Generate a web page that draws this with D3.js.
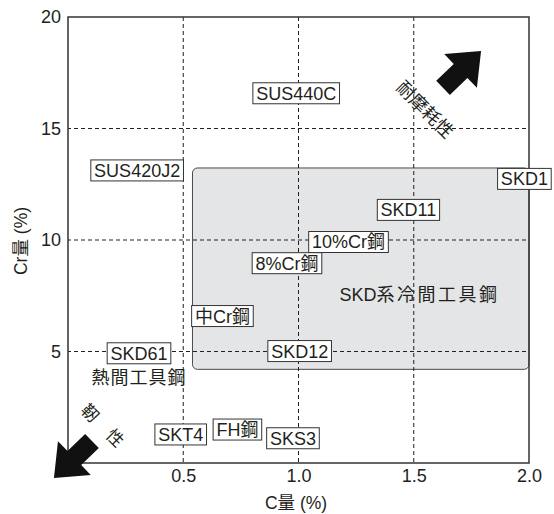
<!DOCTYPE html>
<html><head><meta charset="utf-8">
<script src="https://cdn.jsdelivr.net/npm/d3@7"></script>
<style>
body{margin:0;background:#fff;}
text{font-family:"Liberation Sans",Arial,"Noto Sans CJK JP",sans-serif;fill:#231f20;}
</style></head><body>
<svg id="chart" width="554" height="514"></svg>
<script>
// ---- data ----
const xTicks = [0.5, 1.0, 1.5, 2.0];
const xTickLabels = ["0.5", "1.0", "1.5", "2.0"];
const yTicks = [5, 10, 15, 20];
const yTickLabels = ["5", "10", "15", "20"];
const gridX = [0.5, 1.0, 1.5];
const gridY = [5, 10, 15];
const steelNames = ["SUS440C","SUS420J2","SKD1","SKD11","10%Cr鋼","8%Cr鋼","中Cr鋼","SKD12","SKD61","SKT4","FH鋼","SKS3"];
const steelC  = [0.99, 0.30, 1.98, 1.477, 1.217, 0.95, 0.67, 1.005, 0.308, 0.489, 0.735, 0.976];
const steelCr = [16.58, 13.12, 12.74, 11.35, 9.91, 8.96, 6.59, 5.02, 4.92, 1.28, 1.50, 1.11];
const regionC = [0.54, 2.0];
const regionCr = [4.2, 13.23];
const regionLabel = "SKD系冷間工具鋼";
const groupLabel = "熱間工具鋼";

const W = 554, H = 514;
const svg = d3.select("#chart");
const x = d3.scaleLinear().domain([0, 2]).range([68, 529]);
const y = d3.scaleLinear().domain([0, 20]).range([463, 17]);
const ink = "#231f20";

// gray region
svg.append("rect")
  .attr("x", x(regionC[0])).attr("y", y(regionCr[1]))
  .attr("width", x(regionC[1]) - x(regionC[0]))
  .attr("height", y(regionCr[0]) - y(regionCr[1]))
  .attr("rx", 5).attr("fill", "#e4e5e6").attr("stroke", "#4a4a4a").attr("stroke-width", 1);

// gridlines
svg.append("g").selectAll("line").data(gridX).join("line")
  .attr("x1", d => x(d)).attr("x2", d => x(d)).attr("y1", y(20)).attr("y2", y(0))
  .attr("stroke", ink).attr("stroke-width", 1).attr("stroke-dasharray", "4,3");
svg.append("g").selectAll("line").data(gridY).join("line")
  .attr("x1", x(0)).attr("x2", x(2)).attr("y1", d => y(d)).attr("y2", d => y(d))
  .attr("stroke", ink).attr("stroke-width", 1).attr("stroke-dasharray", "4,3")
  .attr("stroke-dashoffset", -6);

// frame
svg.append("rect").attr("x", x(0)).attr("y", y(20))
  .attr("width", x(2) - x(0)).attr("height", y(0) - y(20))
  .attr("fill", "none").attr("stroke", "#333").attr("stroke-width", 1.5);

// axes via d3 axis (ticks hidden)
const xAxis = svg.append("g").attr("transform", `translate(0,${y(0)})`)
  .call(d3.axisBottom(x).tickValues(xTicks).tickFormat((d,i) => xTickLabels[i]).tickSize(0).tickPadding(6));
const yAxis = svg.append("g").attr("transform", `translate(${x(0)},0)`)
  .call(d3.axisLeft(y).tickValues(yTicks).tickFormat((d,i) => yTickLabels[i]).tickSize(0).tickPadding(7));
[xAxis, yAxis].forEach(a => {
  a.select(".domain").remove();
  a.selectAll("text").attr("font-size", 18).attr("fill", ink)
    .style("font-family", '"Liberation Sans",Arial,sans-serif');
});

// axis titles
svg.append("text").attr("x", 296).attr("y", 509).attr("text-anchor", "middle")
  .attr("font-size", 17.5).text("C量 (%)");
svg.append("text").attr("transform", "translate(27,241) rotate(-90)").attr("text-anchor", "middle")
  .attr("font-size", 17.5).text("Cr量 (%)");

// region labels
const rl = svg.append("text").attr("x", x(1.525)).attr("y", y(7.53)).attr("dy", "0.35em")
  .attr("text-anchor", "middle").attr("font-size", 18);
rl.append("tspan").text(regionLabel.slice(0, 3));
rl.append("tspan").attr("letter-spacing", 2.5).text(regionLabel.slice(3));
svg.append("text").attr("x", x(0.308)).attr("y", y(3.81)).attr("dy", "0.35em")
  .attr("text-anchor", "middle").attr("font-size", 18).attr("letter-spacing", 1).text(groupLabel);

// steel labels (boxed)
const steels = steelNames.map((n, i) => ({name: n, c: steelC[i], cr: steelCr[i]}));
const lg = svg.append("g").selectAll("g").data(steels).join("g")
  .attr("transform", d => `translate(${x(d.c)},${y(d.cr)})`);
lg.append("text").attr("text-anchor", "middle").attr("dy", "0.36em").attr("font-size", 18)
  .text(d => d.name);
lg.each(function() {
  const g = d3.select(this);
  const bb = g.select("text").node().getBBox();
  g.insert("rect", "text")
    .attr("x", bb.x - 3.3).attr("y", -10.5)
    .attr("width", bb.width + 6.6).attr("height", 21)
    .attr("fill", "#fff").attr("stroke", "#333").attr("stroke-width", 1);
});

// arrows
function arrow(tail, tip) {
  const x0 = x(tail[0]), y0 = y(tail[1]), x1 = x(tip[0]), y1 = y(tip[1]);
  const L = Math.hypot(x1 - x0, y1 - y0);
  const ang = Math.atan2(y1 - y0, x1 - x0) * 180 / Math.PI;
  const hl = 28.5, hw = 23.5, sw = 9.8;
  const pts = [[0,-sw],[L-hl,-sw],[L-hl,-hw],[L,0],[L-hl,hw],[L-hl,sw],[0,sw]];
  svg.append("polygon").attr("points", pts.map(p => p.join(",")).join(" "))
    .attr("transform", `translate(${x0},${y0}) rotate(${ang})`).attr("fill", "#111");
}
arrow([1.627, 16.82], [1.792, 18.47]);
arrow([0.104, 0.99], [-0.061, -0.67]);

// rotated annotations
svg.append("text").attr("transform", `translate(${x(1.549)},${y(15.85)}) rotate(45)`)
  .attr("text-anchor", "middle").attr("dy", "0.35em").attr("font-size", 18).text("耐摩耗性");
const toughChars = ["靭", "性"];
const toughPos = [[0.095, 2.24], [0.204, 1.12]];
toughChars.forEach((ch, i) => {
  svg.append("text").attr("transform", `translate(${x(toughPos[i][0])},${y(toughPos[i][1])}) rotate(45)`)
    .attr("text-anchor", "middle").attr("dy", "0.35em").attr("font-size", 17).text(ch);
});
</script></body></html>
